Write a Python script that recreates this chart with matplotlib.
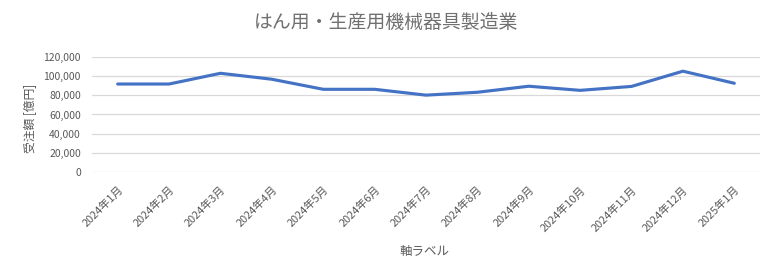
import matplotlib
matplotlib.use("Agg")
import matplotlib.pyplot as plt
from matplotlib.ticker import FuncFormatter

plt.rcParams['font.family'] = ['Noto Sans CJK JP', 'DejaVu Sans']

months = ["2024年1月", "2024年2月", "2024年3月", "2024年4月", "2024年5月", "2024年6月",
          "2024年7月", "2024年8月", "2024年9月", "2024年10月", "2024年11月", "2024年12月",
          "2025年1月"]
values = [91800, 91800, 103000, 96800, 86300, 86300, 80200, 83200, 89500, 85200, 89300, 105200, 92600]
yticks = [0, 20000, 40000, 60000, 80000, 100000, 120000]

title = "はん用・生産用機械器具製造業"
ylabel = "受注額 [億円]"
xlabel = "軸ラベル"

gray = "#595959"
fig = plt.figure(figsize=(7.72, 2.8), dpi=100)
ax = fig.add_axes([92/772, (280-172)/280, (760-92)/772, (172-57)/280])
x = list(range(len(months)))
ax.plot(x, values, color="#4472C4", linewidth=2.25, solid_capstyle="round")
ax.set_xlim(-0.5, len(months) - 0.5)
ax.set_ylim(0, 120000)
ax.set_yticks(yticks)
ax.yaxis.set_major_formatter(FuncFormatter(lambda v, p: f"{int(v):,}"))
ax.set_xticks(x)
ax.set_xticklabels(months, rotation=45, ha="right", rotation_mode="anchor")
ax.grid(axis="y", color="#D9D9D9", linewidth=0.9)
ax.set_axisbelow(True)
for s in ax.spines.values():
    s.set_visible(False)
ax.tick_params(axis="both", length=0, colors=gray)
ax.tick_params(axis="y", pad=8, labelsize=7.5)
ax.tick_params(axis="x", pad=9, labelsize=7.9)
fig.text(386/772, 1 - 22/280, title, ha="center", va="center", fontsize=13.6, color="#707070")
fig.text(30/772, 1 - 118/280, ylabel, ha="center", va="center", rotation=90, fontsize=8.5, color=gray)
fig.text(425/772, 1 - 251/280, xlabel, ha="center", va="center", fontsize=9, color=gray)
fig.savefig("out.png", dpi=100, facecolor="white")
